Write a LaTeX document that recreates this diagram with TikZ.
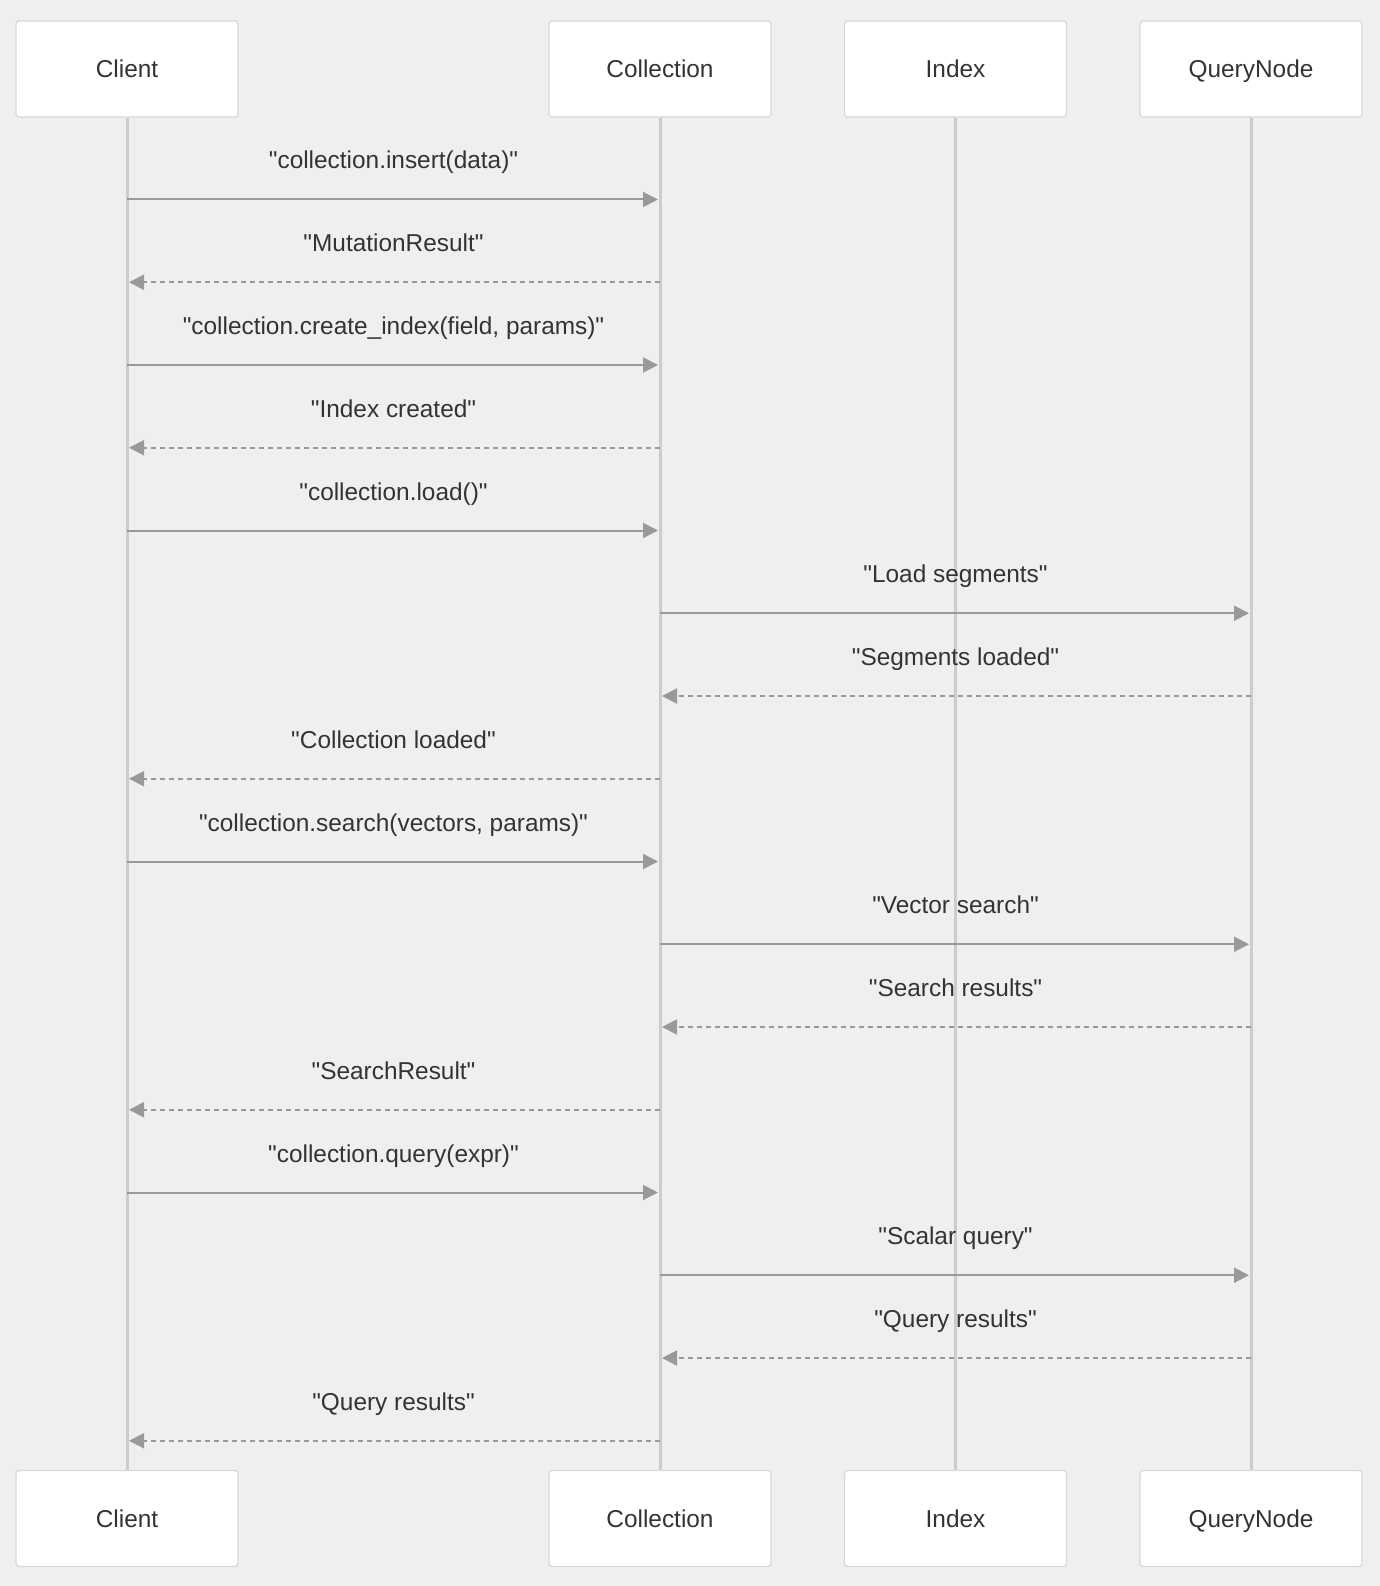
\documentclass[tikz,border=0pt]{standalone}
\usepackage{fontspec}
\setmainfont{Liberation Sans}[Ligatures=TeXOff]
\usetikzlibrary{arrows.meta}
\definecolor{bg}{HTML}{F0EFEE}
\definecolor{boxline}{HTML}{D8D8D8}
\definecolor{lifeline}{HTML}{CCCCCC}
\definecolor{msgline}{HTML}{999999}
\definecolor{txt}{HTML}{333333}
\begin{document}
\begin{tikzpicture}[x=1pt,y=-1pt,
  actor/.style={draw=boxline, fill=white, rounded corners=3pt, line width=1.3pt,
    minimum width=222pt, minimum height=96pt, inner sep=0pt,
    text height=17.5pt, text depth=0pt,
    font=\fontsize{24.4}{28}\selectfont, text=txt},
  life/.style={draw=lifeline, line width=3pt},
  call/.style={draw=msgline, line width=2pt,
    -{Triangle[length=15pt,width=15pt]}, shorten >=2pt},
  reply/.style={call, dash pattern=on 5pt off 4pt},
  lbl/.style={midway, anchor=base, yshift=30.5pt, text=txt,
    font=\fontsize{24.4}{28}\selectfont}]
\fill[bg] (0,0) rectangle (1380,1586);
\useasboundingbox (0,0) rectangle (1380,1586);

% participants, top and bottom
\node[actor] (clientT) at (127,69) {Client};
\node[actor] (collT)   at (660,69) {Collection};
\node[actor] (indexT)  at (955.5,69) {Index};
\node[actor] (qnodeT)  at (1251,69) {QueryNode};
\node[actor] (clientB) at (127,1518.5) {Client};
\node[actor] (collB)   at (660,1518.5) {Collection};
\node[actor] (indexB)  at (955.5,1518.5) {Index};
\node[actor] (qnodeB)  at (1251,1518.5) {QueryNode};

% lifelines
\draw[life] (clientT.south) -- (clientB.north);
\draw[life] (collT.south) -- (collB.north);
\draw[life] (indexT.south) -- (indexB.north);
\draw[life] (qnodeT.south) -- (qnodeB.north);

% messages
\draw[call]  (clientT |- 0,199.5)  -- node[lbl]{"collection.insert(data)"} (collT |- 0,199.5);
\draw[reply] (collT |- 0,282.25)   -- node[lbl]{"MutationResult"} (clientT |- 0,282.25);
\draw[call]  (clientT |- 0,365)    -- node[lbl]{"collection.create\_index(field, params)"} (collT |- 0,365);
\draw[reply] (collT |- 0,447.75)   -- node[lbl]{"Index created"} (clientT |- 0,447.75);
\draw[call]  (clientT |- 0,530.5)  -- node[lbl]{"collection.load()"} (collT |- 0,530.5);
\draw[call]  (collT |- 0,613.25)   -- node[lbl]{"Load segments"} (qnodeT |- 0,613.25);
\draw[reply] (qnodeT |- 0,696)     -- node[lbl]{"Segments loaded"} (collT |- 0,696);
\draw[reply] (collT |- 0,778.75)   -- node[lbl]{"Collection loaded"} (clientT |- 0,778.75);
\draw[call]  (clientT |- 0,861.5)  -- node[lbl]{"collection.search(vectors, params)"} (collT |- 0,861.5);
\draw[call]  (collT |- 0,944.25)   -- node[lbl]{"Vector search"} (qnodeT |- 0,944.25);
\draw[reply] (qnodeT |- 0,1027)    -- node[lbl]{"Search results"} (collT |- 0,1027);
\draw[reply] (collT |- 0,1109.75)  -- node[lbl]{"SearchResult"} (clientT |- 0,1109.75);
\draw[call]  (clientT |- 0,1192.5) -- node[lbl]{"collection.query(expr)"} (collT |- 0,1192.5);
\draw[call]  (collT |- 0,1275.25)  -- node[lbl]{"Scalar query"} (qnodeT |- 0,1275.25);
\draw[reply] (qnodeT |- 0,1358)    -- node[lbl]{"Query results"} (collT |- 0,1358);
\draw[reply] (collT |- 0,1440.75)  -- node[lbl]{"Query results"} (clientT |- 0,1440.75);
\end{tikzpicture}
\end{document}
